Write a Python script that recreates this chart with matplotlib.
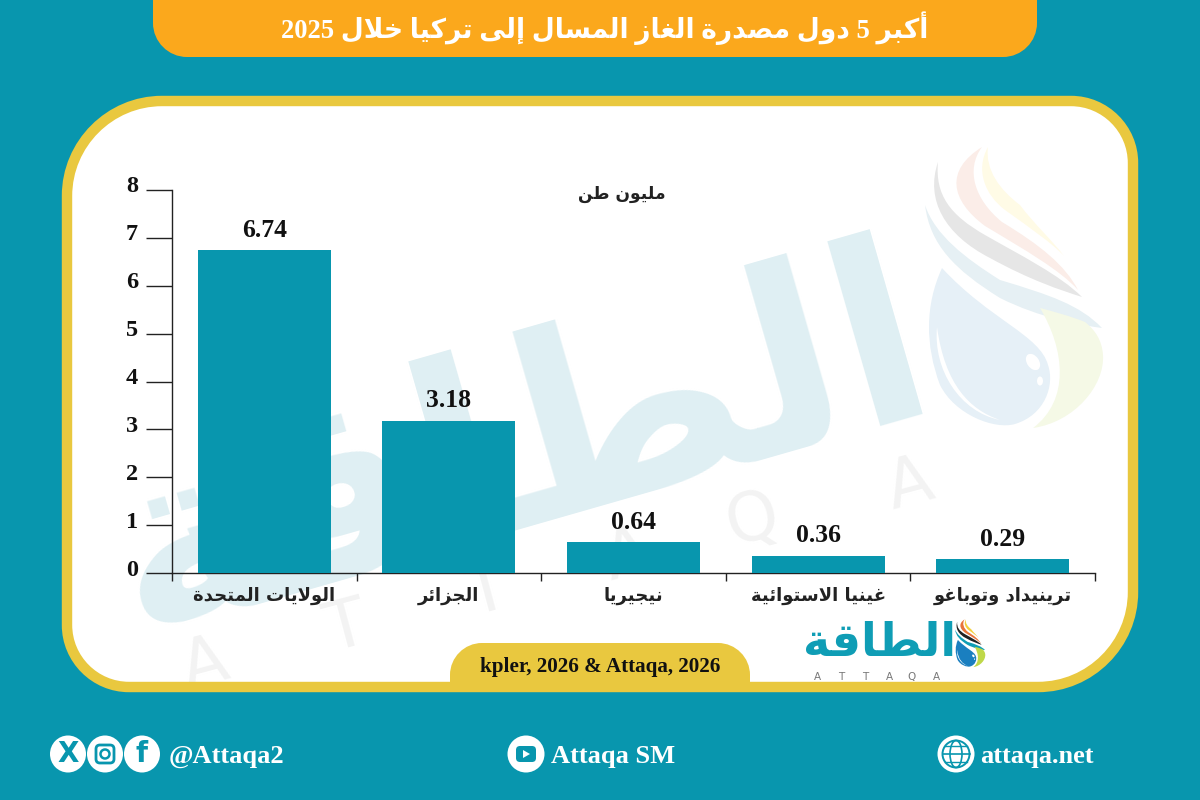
import matplotlib
matplotlib.use("Agg")
import matplotlib.pyplot as plt
from matplotlib.path import Path
from matplotlib.patches import PathPatch, Ellipse, FancyBboxPatch, Polygon
from matplotlib.transforms import ScaledTranslation

# ---------- data ----------
categories = ["الولايات المتحدة", "الجزائر", "نيجيريا", "غينيا الاستوائية", "ترينيداد وتوباغو"]
values = [6.74, 3.18, 0.64, 0.36, 0.29]
y_ticks = [0, 1, 2, 3, 4, 5, 6, 7, 8]
title_text = "أكبر 5 دول مصدرة الغاز المسال إلى تركيا خلال 2025"
unit_text = "مليون طن"
logo_text = "الطاقة"
source_text = "kpler, 2026 & Attaqa, 2026"

TEAL = "#0896AE"
ORANGE = "#FBA81C"
YELLOW = "#E9C83F"
WM = "#DFEFF3"
WM_GREY = "#F3F3F3"

# ---------- minimal Arabic shaping (matplotlib has no shaper) ----------
FORMS = {  # isolated, final, initial, medial
    'ء': (0xFE80, 0xFE80, None, None), 'آ': (0xFE81, 0xFE82, None, None),
    'أ': (0xFE83, 0xFE84, None, None), 'ؤ': (0xFE85, 0xFE86, None, None),
    'إ': (0xFE87, 0xFE88, None, None), 'ئ': (0xFE89, 0xFE8A, 0xFE8B, 0xFE8C),
    'ا': (0xFE8D, 0xFE8E, None, None), 'ب': (0xFE8F, 0xFE90, 0xFE91, 0xFE92),
    'ة': (0xFE93, 0xFE94, None, None), 'ت': (0xFE95, 0xFE96, 0xFE97, 0xFE98),
    'ث': (0xFE99, 0xFE9A, 0xFE9B, 0xFE9C), 'ج': (0xFE9D, 0xFE9E, 0xFE9F, 0xFEA0),
    'ح': (0xFEA1, 0xFEA2, 0xFEA3, 0xFEA4), 'خ': (0xFEA5, 0xFEA6, 0xFEA7, 0xFEA8),
    'د': (0xFEA9, 0xFEAA, None, None), 'ذ': (0xFEAB, 0xFEAC, None, None),
    'ر': (0xFEAD, 0xFEAE, None, None), 'ز': (0xFEAF, 0xFEB0, None, None),
    'س': (0xFEB1, 0xFEB2, 0xFEB3, 0xFEB4), 'ش': (0xFEB5, 0xFEB6, 0xFEB7, 0xFEB8),
    'ص': (0xFEB9, 0xFEBA, 0xFEBB, 0xFEBC), 'ض': (0xFEBD, 0xFEBE, 0xFEBF, 0xFEC0),
    'ط': (0xFEC1, 0xFEC2, 0xFEC3, 0xFEC4), 'ظ': (0xFEC5, 0xFEC6, 0xFEC7, 0xFEC8),
    'ع': (0xFEC9, 0xFECA, 0xFECB, 0xFECC), 'غ': (0xFECD, 0xFECE, 0xFECF, 0xFED0),
    'ف': (0xFED1, 0xFED2, 0xFED3, 0xFED4), 'ق': (0xFED5, 0xFED6, 0xFED7, 0xFED8),
    'ك': (0xFED9, 0xFEDA, 0xFEDB, 0xFEDC), 'ل': (0xFEDD, 0xFEDE, 0xFEDF, 0xFEE0),
    'م': (0xFEE1, 0xFEE2, 0xFEE3, 0xFEE4), 'ن': (0xFEE5, 0xFEE6, 0xFEE7, 0xFEE8),
    'ه': (0xFEE9, 0xFEEA, 0xFEEB, 0xFEEC), 'و': (0xFEED, 0xFEEE, None, None),
    'ى': (0xFEEF, 0xFEF0, None, None), 'ي': (0xFEF1, 0xFEF2, 0xFEF3, 0xFEF4),
}
LAM_ALEF = {'ا': (0xFEFB, 0xFEFC), 'أ': (0xFEF7, 0xFEF8), 'إ': (0xFEF9, 0xFEFA), 'آ': (0xFEF5, 0xFEF6)}


def shape_word(w):
    if not any(c in FORMS for c in w):
        return w
    out = []
    i = 0
    prev_joins = False
    while i < len(w):
        c = w[i]
        if c == 'ل' and i + 1 < len(w) and w[i + 1] in LAM_ALEF:
            out.append(chr(LAM_ALEF[w[i + 1]][1 if prev_joins else 0]))
            prev_joins = False
            i += 2
            continue
        f = FORMS[c]
        next_ok = i + 1 < len(w) and w[i + 1] in FORMS
        can_next = f[2] is not None and next_ok
        if prev_joins and can_next:
            g = f[3]
        elif prev_joins:
            g = f[1]
        elif can_next:
            g = f[2]
        else:
            g = f[0]
        out.append(chr(g))
        prev_joins = can_next
        i += 1
    return "".join(reversed(out))


def ar(s):
    return " ".join(shape_word(t) for t in reversed(s.split(" ")))


# ---------- figure and pixel-space backdrop ----------
fig = plt.figure(figsize=(12, 8), dpi=100, facecolor=TEAL)
bg = fig.add_axes([0, 0, 1, 1])
bg.set_xlim(0, 1200)
bg.set_ylim(800, 0)
bg.axis("off")
SERIF = ["Liberation Serif", "DejaVu Sans"]
SANS = ["DejaVu Sans"]


def rrect(x0, y0, x1, y1, tl, tr, br, bl):
    k = 0.45
    v = [(x0 + tl, y0), (x1 - tr, y0),
         (x1 - tr * k, y0), (x1, y0 + tr * k), (x1, y0 + tr),
         (x1, y1 - br),
         (x1, y1 - br * k), (x1 - br * k, y1), (x1 - br, y1),
         (x0 + bl, y1),
         (x0 + bl * k, y1), (x0, y1 - bl * k), (x0, y1 - bl),
         (x0, y0 + tl),
         (x0, y0 + tl * k), (x0 + tl * k, y0), (x0 + tl, y0), (x0 + tl, y0)]
    c = [Path.MOVETO, Path.LINETO, Path.CURVE4, Path.CURVE4, Path.CURVE4, Path.LINETO,
         Path.CURVE4, Path.CURVE4, Path.CURVE4, Path.LINETO,
         Path.CURVE4, Path.CURVE4, Path.CURVE4, Path.LINETO,
         Path.CURVE4, Path.CURVE4, Path.CURVE4, Path.CLOSEPOLY]
    return Path(v, c)


# title tab
bg.add_patch(PathPatch(rrect(153, -40, 1037, 57, 0, 0, 34, 34), fc=ORANGE, ec="none", zorder=2))
bg.text(605, 28, ar(title_text), color="white", fontsize=19.1, fontweight="bold",
        family=SERIF, ha="center", va="center", zorder=3)

# panel: white fill below the watermark, yellow border above it
panel_path = rrect(67, 101, 1133, 687, 95, 62, 95, 62)
panel = PathPatch(panel_path, fc="white", ec="none", zorder=2)
bg.add_patch(panel)
bg.add_patch(PathPatch(panel_path, fc="none", ec=YELLOW, lw=7.5, zorder=2.6))


def emblem(ox, oy, s, cols, z):
    def P(*pts):
        verts = [(ox + (x - 925) * s, oy + (y - 145) * s) for x, y in pts]
        codes = [Path.MOVETO] + [Path.CURVE4] * (len(pts) - 1)
        return Path(verts, codes)
    shapes = [
        (P((988, 147), (975, 170), (985, 195), (1005, 210), (1030, 228), (1052, 243), (1064, 256),
           (1052, 240), (1035, 225), (1020, 205), (1000, 190), (985, 170), (988, 147)), cols[0]),
        (P((982, 147), (945, 170), (950, 200), (985, 226), (1025, 250), (1060, 270), (1078, 290),
           (1065, 265), (1040, 245), (1002, 222), (975, 200), (965, 170), (982, 147)), cols[1]),
        (P((938, 162), (925, 200), (945, 235), (990, 258), (1030, 280), (1060, 290), (1082, 297),
           (1060, 275), (1020, 255), (985, 235), (950, 215), (935, 195), (938, 162)), cols[2]),
        (P((925, 205), (930, 245), (955, 270), (1000, 298), (1040, 318), (1080, 325), (1102, 328),
           (1080, 305), (1050, 295), (1000, 280), (965, 258), (935, 235), (925, 205)), cols[3]),
        (P((942, 268), (925, 305), (925, 345), (940, 385), (955, 415), (995, 430), (1015, 424),
           (1045, 415), (1055, 385), (1048, 365), (1040, 335), (990, 320), (942, 268)), cols[4]),
        (P((1033, 428), (1075, 422), (1105, 385), (1103, 355), (1102, 340), (1095, 330), (1085, 322),
           (1070, 316), (1055, 312), (1040, 308), (1065, 350), (1070, 400), (1033, 428)), cols[5]),
    ]
    for p, c in shapes:
        bg.add_patch(PathPatch(p, fc=c, ec="none", zorder=z))
    # crescent and glints on the drop
    bg.add_patch(PathPatch(P((937, 327), (933, 370), (960, 412), (1000, 420), (970, 410), (945, 385), (937, 327)),
                           fc="white", ec="none", zorder=z))
    bg.add_patch(Ellipse((ox + (1033 - 925) * s, oy + (362 - 145) * s), 12 * s, 18 * s, angle=-35, fc="white", ec="none", zorder=z))
    bg.add_patch(Ellipse((ox + (1040 - 925) * s, oy + (381 - 145) * s), 6 * s, 9 * s, fc="white", ec="none", zorder=z))


emblem(925, 145, 1.0, ["#FFFBE6", "#FBEDE8", "#E6E6E6", "#E6F0F4", "#E6F0F7", "#F5F9E6"], 2.5)

# watermark
wm = bg.text(520, 452, shape_word(logo_text), color=WM, fontsize=182, fontweight="bold", family=SANS,
             rotation=16, rotation_mode="anchor", ha="center", va="center", zorder=2.4, clip_on=True)
wm.set_clip_path(panel)
for letter, (x, y) in zip("ATTAQA", [(205, 665), (346, 628), (487, 592), (628, 556), (752, 520), (910, 485)]):
    t = bg.text(x, y, letter, color=WM_GREY, fontsize=48, family=SANS, rotation=15, ha="center", va="center",
                zorder=2.4, clip_on=True)
    t.set_clip_path(panel)

# source tab
bg.add_patch(PathPatch(rrect(450, 643, 750, 690, 32, 32, 0, 0), fc=YELLOW, ec="none", zorder=3))
bg.text(600, 667, source_text, color="#111111", fontsize=15.2, fontweight="bold", family=SERIF,
        ha="center", va="center", zorder=4)

# logo
bg.text(880, 644, shape_word(logo_text), color="#0F9DB5", fontsize=33, fontweight="bold", family=SANS,
        ha="center", va="center", zorder=4)
for letter, x in zip("ATTAQA", [817, 841, 865, 889, 912, 936]):
    bg.text(x, 677, letter, color="#777777", fontsize=7.5, family=SANS, ha="center", va="center", zorder=4)
emblem(955, 619, 0.17, ["#F4D03F", "#E8753A", "#222222", "#0F9DB5", "#1A7FC0", "#BFD849"], 4)

# footer
for cx, ch in [(68, "X"), (142, "f")]:
    bg.add_patch(Ellipse((cx, 754), 36, 37, fc="white", ec="none", zorder=3))
    bg.text(cx, 754, ch, color=TEAL, fontsize=20, fontweight="bold", family=SANS, ha="center", va="center", zorder=4)
bg.add_patch(Ellipse((105, 754), 36, 37, fc="white", ec="none", zorder=3))
bg.add_patch(FancyBboxPatch((96, 745), 18, 18, boxstyle="round,pad=0,rounding_size=4", fc="none", ec=TEAL, lw=2, zorder=4))
bg.add_patch(Ellipse((105, 754), 9, 9, fc="none", ec=TEAL, lw=1.8, zorder=4))
bg.add_patch(Ellipse((526, 754), 37, 37, fc="white", ec="none", zorder=3))
bg.add_patch(FancyBboxPatch((516, 746), 20, 16, boxstyle="round,pad=0,rounding_size=4", fc=TEAL, ec="none", zorder=4))
bg.add_patch(Polygon([(523, 750), (523, 758), (530, 754)], fc="white", ec="none", zorder=5))
bg.add_patch(Ellipse((956, 754), 37, 37, fc="white", ec="none", zorder=3))
bg.add_patch(Ellipse((956, 754), 27, 27, fc="none", ec=TEAL, lw=1.4, zorder=4))
bg.add_patch(Ellipse((956, 754), 12, 27, fc="none", ec=TEAL, lw=1.2, zorder=4))
bg.plot([942.5, 969.5], [754, 754], color=TEAL, lw=1.2, zorder=4)
bg.plot([945, 967], [746, 746], color=TEAL, lw=1.0, zorder=4)
bg.plot([945, 967], [762, 762], color=TEAL, lw=1.0, zorder=4)
for x, s in [(169, "@Attaqa2"), (551, "Attaqa SM"), (980, "attaqa.net")]:
    bg.text(x, 756, s, color="white", fontsize=19, fontweight="bold", family=SERIF, ha="left", va="center", zorder=4)

# ---------- chart ----------
L, R, T, B = 172, 1095, 190, 573
ax = fig.add_axes([L / 1200, 1 - B / 800, (R - L) / 1200, (B - T) / 800])
ax.patch.set_alpha(0)
ax.set_xlim(-0.5, 4.5)
ax.set_ylim(0, 8)
xpos = list(range(len(categories)))
bars = ax.bar(xpos, values, width=0.72, color=TEAL, zorder=3)
labels = ax.bar_label(bars, fmt="%.2f", padding=6, fontsize=18.5, fontweight="bold", family=SERIF, color="#111111")

for s in ("top", "right"):
    ax.spines[s].set_visible(False)
for s in ("left", "bottom"):
    ax.spines[s].set_linewidth(1.0)
    ax.spines[s].set_color("#222222")
ax.spines["left"].set_bounds(0, 8)

ax.set_yticks(y_ticks)
ax.set_yticklabels([str(v) for v in y_ticks], fontsize=17.5, fontweight="bold", family=SERIF, color="#111111")
ax.tick_params(axis="y", length=18.5, width=1.0, color="#222222", pad=6)
for lab in ax.get_yticklabels():
    lab.set_transform(lab.get_transform() + ScaledTranslation(0, 5.5 / 100, fig.dpi_scale_trans))

ax.set_xticks(xpos)
ax.set_xticklabels([ar(c) for c in categories], fontsize=13, fontweight="bold", family=SANS, color="#222222")
ax.tick_params(axis="x", which="major", length=0, pad=10)
ax.set_xticks([-0.5, 0.5, 1.5, 2.5, 3.5, 4.5], minor=True)
ax.tick_params(axis="x", which="minor", length=6, width=1.0, color="#222222")

ax.text(0.487, 0.99, ar(unit_text), transform=ax.transAxes, ha="center", va="center",
        fontsize=12.3, fontweight="bold", family=SANS, color="#222222")

fig.savefig("out.png", dpi=100, facecolor=TEAL)
